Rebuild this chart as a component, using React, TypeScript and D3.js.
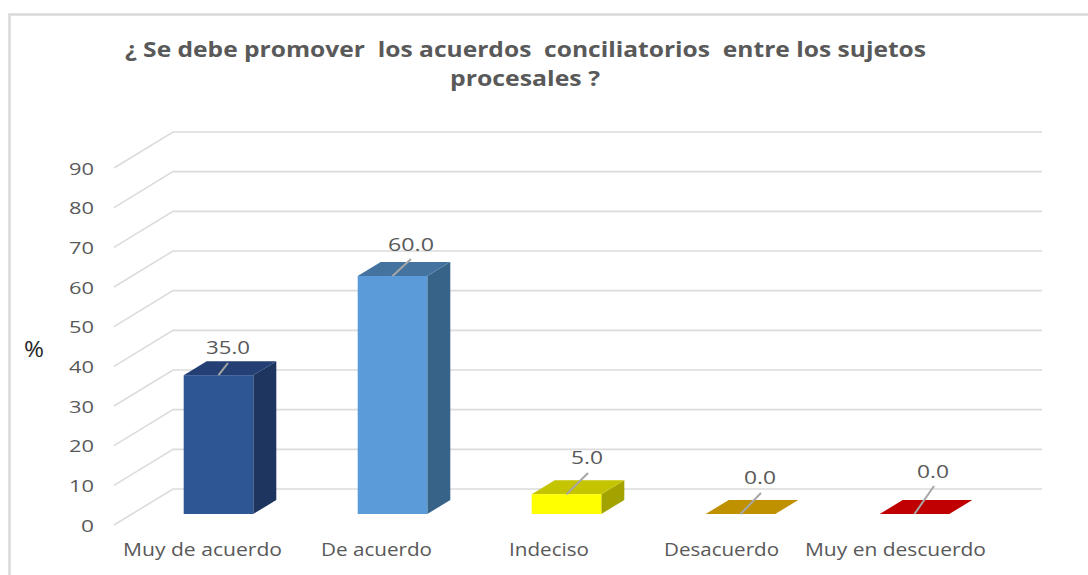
import React from "react";
import * as d3 from "d3";

const titleLines = ["¿ Se debe promover  los acuerdos  conciliatorios  entre los sujetos", "procesales ?"];
const categories = ["Muy de acuerdo", "De acuerdo", "Indeciso", "Desacuerdo", "Muy en descuerdo"];
const values = [35, 60, 5, 0, 0];
const valueLabels = ["35.0", "60.0", "5.0", "0.0", "0.0"];
const yTicks = [0, 10, 20, 30, 40, 50, 60, 70, 80, 90];
const yAxisLabel = "%";

// Styling and layout, kept apart from the data
const frontColors = ["#2e5594", "#5b9bd9", "#ffff00", "#bf9000", "#c00000"];
const topColors = ["#243f73", "#44739f", "#c4c400", "#bf9000", "#c00000"];
const sideColors = ["#1e3560", "#386388", "#a3a300", "#bf9000", "#c00000"];
const categoryExtents: [number, number][] = [[123, 282], [321, 432], [509, 589], [664, 779], [805, 986]];
const labelExtents: [number, number, number][] = [[206, 250, 354], [388, 434, 251], [571, 603, 464], [744, 776, 484], [917, 949, 478]];
const leaderEnds: [number, number][] = [[228, 363], [411, 259], [588, 473], [761, 493], [934, 486]];

const FONT = "'Open Sans', sans-serif";
const GRAY = "#595959";
const GRID = "#dcdcdc";

export default function App() {
  const gridY = d3.scaleLinear().domain([0, 90]).range([489, 132]);
  const tickDy = 36;
  const barY = d3.scaleLinear().domain([0, 90]).range([514, 157]);
  const x = d3.scaleBand<string>().domain(categories).range([131.5, 1001.5]).paddingInner(0.6).paddingOuter(0.3);
  const depthX = 23;
  const depthY = 14;
  const line = d3.line();

  return (
    <svg width={1088} height={575} style={{ position: "absolute", left: 0, top: 0, display: "block", background: "#fff" }} fontFamily={FONT}>
      <path d="M1088,14.5H9.5V575" fill="none" stroke="#d9d9d9" strokeWidth={2.5} />

      {titleLines.map((t, i) => (
        <text key={i} x={i === 0 ? 125 : 450} y={i === 0 ? 57 : 86} textLength={i === 0 ? 801 : 150} lengthAdjust="spacingAndGlyphs"
          fontSize={21} fontWeight={700} fill={GRAY} xmlSpace="preserve" style={{ whiteSpace: "pre" }}>{t}</text>
      ))}

      <text x={24} y={357} textLength={20} lengthAdjust="spacingAndGlyphs" fontSize={21} fontWeight={500} fill="#262626">{yAxisLabel}</text>

      {yTicks.map((t) => (
        <g key={t}>
          <path d={line([[114, gridY(t) + tickDy], [173, gridY(t)], [1042, gridY(t)]]) ?? ""} fill="none" stroke={GRID} strokeWidth={1.6} />
          <text x={94} y={gridY(t) + tickDy + 6.5} textAnchor="end" textLength={t === 0 ? 13 : 25} lengthAdjust="spacingAndGlyphs" fontSize={17} fill={GRAY}>{t}</text>
        </g>
      ))}

      {categories.map((c, i) => {
        const x0 = x(c) as number;
        const x1 = x0 + x.bandwidth();
        const y0 = barY(0);
        const y1 = barY(values[i]);
        const top = line([[x0, y1], [x1, y1], [x1 + depthX, y1 - depthY], [x0 + depthX, y1 - depthY]]) + "Z";
        const side = line([[x1, y0], [x1, y1], [x1 + depthX, y1 - depthY], [x1 + depthX, y0 - depthY]]) + "Z";
        const cx = (x0 + x1) / 2;
        const [lx0, lx1, ly] = labelExtents[i];
        return (
          <g key={c}>
            <path d={side} fill={sideColors[i]} />
            <path d={top} fill={topColors[i]} />
            {values[i] > 0 && <rect x={x0} y={y1} width={x1 - x0} height={y0 - y1} fill={frontColors[i]} />}
            <path d={line([[cx, y1], leaderEnds[i]]) ?? ""} stroke="#a6a6a6" strokeWidth={2} fill="none" />
            <text x={lx0} y={ly} textLength={lx1 - lx0} lengthAdjust="spacingAndGlyphs" fontSize={18} fill={GRAY}>{valueLabels[i]}</text>
            <text x={categoryExtents[i][0]} y={556} textLength={categoryExtents[i][1] - categoryExtents[i][0]} lengthAdjust="spacingAndGlyphs" fontSize={18} fill={GRAY}>{c}</text>
          </g>
        );
      })}
    </svg>
  );
}
